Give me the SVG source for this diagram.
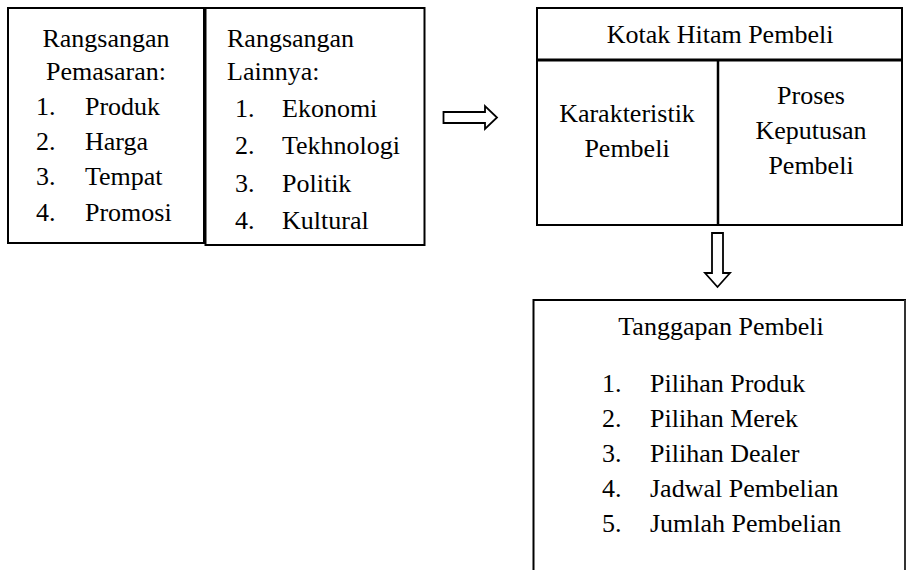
<svg xmlns="http://www.w3.org/2000/svg" width="906" height="570" viewBox="0 0 906 570">
<style>
.b{fill:#fff;stroke:#000;stroke-width:2}
.a{fill:#fff;stroke:#000;stroke-width:1.8}
</style>
<rect width="906" height="570" fill="#fff"/>
<g id="rangsangan-pemasaran" style="font-family:'Liberation Serif','Times New Roman',Tinos,serif;font-size:26px">
<rect class="b" x="8" y="8" width="196" height="235"/>
<text style="font-family:'Liberation Serif','Times New Roman',Tinos,serif" text-anchor="middle" x="106" y="47">Rangsangan</text>
<text style="font-family:'Liberation Serif','Times New Roman',Tinos,serif" text-anchor="middle" x="106" y="80">Pemasaran:</text>
<text style="font-family:'Liberation Serif','Times New Roman',Tinos,serif" x="36" y="115">1.</text><text style="font-family:'Liberation Serif','Times New Roman',Tinos,serif" x="85" y="115">Produk</text>
<text style="font-family:'Liberation Serif','Times New Roman',Tinos,serif" x="36" y="150">2.</text><text style="font-family:'Liberation Serif','Times New Roman',Tinos,serif" x="85" y="150">Harga</text>
<text style="font-family:'Liberation Serif','Times New Roman',Tinos,serif" x="36" y="185">3.</text><text style="font-family:'Liberation Serif','Times New Roman',Tinos,serif" x="85" y="185">Tempat</text>
<text style="font-family:'Liberation Serif','Times New Roman',Tinos,serif" x="36" y="221">4.</text><text style="font-family:'Liberation Serif','Times New Roman',Tinos,serif" x="85" y="221">Promosi</text>
</g>
<g id="rangsangan-lainnya" style="font-family:'Liberation Serif','Times New Roman',Tinos,serif;font-size:26px">
<rect class="b" x="205.5" y="8" width="219" height="237"/>
<text style="font-family:'Liberation Serif','Times New Roman',Tinos,serif" x="227" y="47">Rangsangan</text>
<text style="font-family:'Liberation Serif','Times New Roman',Tinos,serif" x="227" y="80">Lainnya:</text>
<text style="font-family:'Liberation Serif','Times New Roman',Tinos,serif" x="235" y="117">1.</text><text style="font-family:'Liberation Serif','Times New Roman',Tinos,serif" x="282" y="117">Ekonomi</text>
<text style="font-family:'Liberation Serif','Times New Roman',Tinos,serif" x="235" y="154">2.</text><text style="font-family:'Liberation Serif','Times New Roman',Tinos,serif" x="282" y="154">Tekhnologi</text>
<text style="font-family:'Liberation Serif','Times New Roman',Tinos,serif" x="235" y="192">3.</text><text style="font-family:'Liberation Serif','Times New Roman',Tinos,serif" x="282" y="192">Politik</text>
<text style="font-family:'Liberation Serif','Times New Roman',Tinos,serif" x="235" y="229">4.</text><text style="font-family:'Liberation Serif','Times New Roman',Tinos,serif" x="282" y="229">Kultural</text>
</g>
<g id="kotak-hitam" style="font-family:'Liberation Serif','Times New Roman',Tinos,serif;font-size:26px">
<rect class="b" x="537" y="8" width="365" height="217"/>
<line x1="537" y1="60" x2="902" y2="60" stroke="#000" stroke-width="3"/>
<line x1="718" y1="60" x2="718" y2="225" stroke="#000" stroke-width="2.5"/>
<text style="font-family:'Liberation Serif','Times New Roman',Tinos,serif" text-anchor="middle" x="720" y="43">Kotak Hitam Pembeli</text>
<text style="font-family:'Liberation Serif','Times New Roman',Tinos,serif" text-anchor="middle" x="627" y="122">Karakteristik</text>
<text style="font-family:'Liberation Serif','Times New Roman',Tinos,serif" text-anchor="middle" x="627" y="157">Pembeli</text>
<text style="font-family:'Liberation Serif','Times New Roman',Tinos,serif" text-anchor="middle" x="811" y="104">Proses</text>
<text style="font-family:'Liberation Serif','Times New Roman',Tinos,serif" text-anchor="middle" x="811" y="139">Keputusan</text>
<text style="font-family:'Liberation Serif','Times New Roman',Tinos,serif" text-anchor="middle" x="811" y="174">Pembeli</text>
</g>
<g id="tanggapan" style="font-family:'Liberation Serif','Times New Roman',Tinos,serif;font-size:26px">
<path d="M533.5 572 V300 H905 V572" fill="#fff" stroke="#000" stroke-width="2"/>
<line x1="905" y1="300" x2="905" y2="572" stroke="#666" stroke-width="1"/>
<text style="font-family:'Liberation Serif','Times New Roman',Tinos,serif" text-anchor="middle" x="721" y="335">Tanggapan Pembeli</text>
<text style="font-family:'Liberation Serif','Times New Roman',Tinos,serif" x="602" y="392">1.</text><text style="font-family:'Liberation Serif','Times New Roman',Tinos,serif" x="650" y="392">Pilihan Produk</text>
<text style="font-family:'Liberation Serif','Times New Roman',Tinos,serif" x="602" y="427">2.</text><text style="font-family:'Liberation Serif','Times New Roman',Tinos,serif" x="650" y="427">Pilihan Merek</text>
<text style="font-family:'Liberation Serif','Times New Roman',Tinos,serif" x="602" y="462">3.</text><text style="font-family:'Liberation Serif','Times New Roman',Tinos,serif" x="650" y="462">Pilihan Dealer</text>
<text style="font-family:'Liberation Serif','Times New Roman',Tinos,serif" x="602" y="497">4.</text><text style="font-family:'Liberation Serif','Times New Roman',Tinos,serif" x="650" y="497">Jadwal Pembelian</text>
<text style="font-family:'Liberation Serif','Times New Roman',Tinos,serif" x="602" y="532">5.</text><text style="font-family:'Liberation Serif','Times New Roman',Tinos,serif" x="650" y="532">Jumlah Pembelian</text>
</g>
<g id="connectors">
<path class="a" d="M443.5 112 H485 V106 L497 117.5 L485 129 V123 H443.5 Z"/>
<path class="a" d="M712 233 H723 V273 H730 L717.5 287 L705 273 H712 Z"/>
</g>
</svg>
